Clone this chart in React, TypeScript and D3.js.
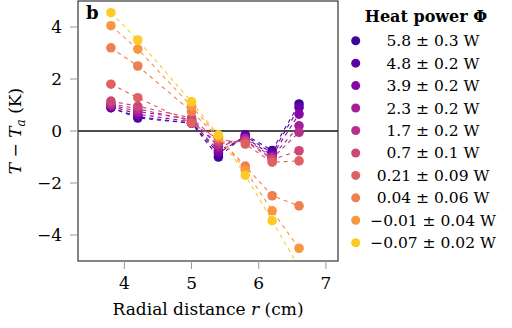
import React from "react";
import * as d3 from "d3";

// radial positions of the thermocouples (cm)
const radius = [3.8, 4.2, 5.0, 5.4, 5.8, 6.2, 6.6];

const powerLabels = [
  "5.8 ± 0.3 W",
  "4.8 ± 0.2 W",
  "3.9 ± 0.2 W",
  "2.3 ± 0.2 W",
  "1.7 ± 0.2 W",
  "0.7 ± 0.1 W",
  "0.21 ± 0.09 W",
  "0.04 ± 0.06 W",
  "−0.01 ± 0.04 W",
  "−0.07 ± 0.02 W",
];

// T - T_a (K) at each radius, one row per heat power
const p58 = [0.9, 0.5, 0.3, -1.0, -0.15, -0.75, 1.04];
const p48 = [0.9, 0.55, 0.3, -0.85, -0.2, -0.85, 0.9];
const p39 = [0.95, 0.65, 0.35, -0.75, -0.25, -0.95, 0.65];
const p23 = [1.0, 0.75, 0.45, -0.6, -0.3, -1.0, 0.2];
const p17 = [1.05, 0.85, 0.4, -0.5, -0.35, -1.05, -0.05];
const p07 = [1.15, 0.95, 0.5, -0.4, -0.4, -1.1, -0.76];
const p021 = [1.8, 1.28, 0.3, -0.3, -0.5, -1.2, -1.15];
const p004 = [3.2, 2.5, 0.75, -0.25, -1.35, -2.49, -2.88];
const pm001 = [4.05, 3.15, 0.95, -0.2, -1.5, -3.07, -4.51];
const pm007 = [4.55, 3.5, 1.12, -0.15, -1.7, -3.45, -5.25];

const series = [p58, p48, p39, p23, p17, p07, p021, p004, pm001, pm007];

const colors = [
  "#3e049c",
  "#6100a7",
  "#8707a6",
  "#a51f99",
  "#b52f8c",
  "#cc4778",
  "#df6263",
  "#ef7f4f",
  "#f99640",
  "#fdca26",
];

const xTicks = [4, 5, 6, 7];
const yTicks = [4, 2, 0, -2, -4];

const W = 512;
const H = 328;
const plot = { left: 78, right: 338, top: 1, bottom: 261 };
const serif = { fontFamily: "DejaVu Serif, serif" };

const fmt = (v: number) => (v < 0 ? "−" + Math.abs(v) : String(v));

export default function App() {
  const x = d3.scaleLinear().domain([3.31, 7.18]).range([plot.left, plot.right]);
  const y = d3.scaleLinear().domain([-5, 5]).range([plot.bottom, plot.top]);

  const line = d3
    .line<number>()
    .x((_, i) => x(radius[i]))
    .y((d) => y(d));

  return (
    <svg
      width={W}
      height={H}
      style={{ position: "absolute", left: 0, top: 0, background: "#fff", ...serif }}
    >
      <defs>
        <clipPath id="plotArea">
          <rect
            x={plot.left}
            y={plot.top}
            width={plot.right - plot.left}
            height={plot.bottom - plot.top}
          />
        </clipPath>
      </defs>

      {/* zero line */}
      <line
        x1={plot.left}
        x2={plot.right}
        y1={y(0)}
        y2={y(0)}
        stroke="#111"
        strokeWidth={1.4}
      />

      <g clipPath="url(#plotArea)">
        {series.map((s, k) => (
          <g key={k}>
            <path
              d={line(s) || ""}
              fill="none"
              stroke={colors[k]}
              strokeWidth={1.1}
              strokeDasharray="4 4"
            />
            {s.map((v, i) => (
              <circle key={i} cx={x(radius[i])} cy={y(v)} r={4.8} fill={colors[k]} />
            ))}
          </g>
        ))}
      </g>

      {/* frame */}
      <rect
        x={plot.left}
        y={plot.top}
        width={plot.right - plot.left}
        height={plot.bottom - plot.top}
        fill="none"
        stroke="#222"
        strokeWidth={1.1}
      />

      {/* x axis */}
      {xTicks.map((t) => (
        <g key={t}>
          <line x1={x(t)} x2={x(t)} y1={plot.bottom} y2={plot.bottom + 8} stroke="#999" />
          <text x={x(t)} y={289} fontSize={17} textAnchor="middle" style={serif}>
            {t}
          </text>
        </g>
      ))}
      <text
        x={(plot.left + plot.right) / 2}
        y={315}
        fontSize={17}
        textAnchor="middle"
        style={serif}
      >
        Radial distance <tspan fontStyle="italic">r</tspan> (cm)
      </text>

      {/* y axis */}
      {yTicks.map((t) => (
        <g key={t}>
          <line x1={plot.left - 8} x2={plot.left} y1={y(t)} y2={y(t)} stroke="#999" />
          <text x={62} y={y(t) + 6} fontSize={17} textAnchor="end" style={serif}>
            {fmt(t)}
          </text>
        </g>
      ))}
      <text
        transform={`translate(21,${(plot.top + plot.bottom) / 2}) rotate(-90)`}
        fontSize={17}
        textAnchor="middle"
        style={serif}
      >
        <tspan fontStyle="italic">T</tspan> − <tspan fontStyle="italic">T</tspan>
        <tspan fontStyle="italic" fontSize={12} dy={4}>
          a
        </tspan>
        <tspan dy={-4}> (K)</tspan>
      </text>

      <text x={86} y={19} fontSize={18} fontWeight="bold" style={serif}>
        b
      </text>

      {/* legend */}
      <text
        x={426}
        y={21.5}
        fontSize={16}
        fontWeight="bold"
        textAnchor="middle"
        style={serif}
      >
        Heat power Φ
      </text>
      {powerLabels.map((lab, k) => {
        const cy = 40.7 + k * 22.45;
        return (
          <g key={lab}>
            <circle cx={355.7} cy={cy} r={4.5} fill={colors[k]} />
            <text x={433} y={cy + 5.5} fontSize={15.5} textAnchor="middle" style={serif}>
              {lab}
            </text>
          </g>
        );
      })}
    </svg>
  );
}
